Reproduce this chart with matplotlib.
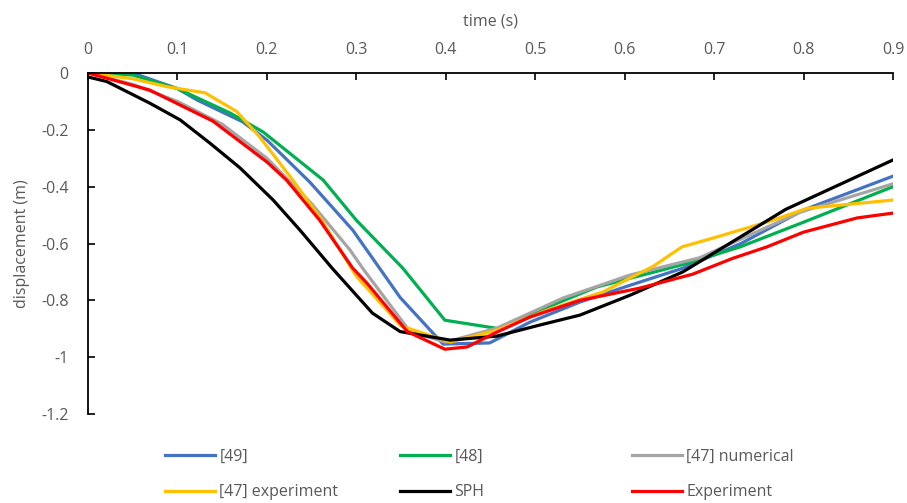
import matplotlib
matplotlib.use("Agg")
import matplotlib.pyplot as plt

# ---- data ----
x_49 = [0, 0.05, 0.1, 0.122, 0.173, 0.2, 0.248, 0.296, 0.349, 0.397, 0.449, 0.494, 0.55, 0.606, 0.665, 0.73, 0.8, 0.9]
y_49 = [0, 0, -0.055, -0.095, -0.172, -0.236, -0.384, -0.553, -0.79, -0.954, -0.95, -0.877, -0.806, -0.747, -0.687, -0.6, -0.482, -0.363]

x_48 = [0, 0.05, 0.1, 0.159, 0.196, 0.263, 0.3, 0.352, 0.399, 0.46, 0.505, 0.569, 0.67, 0.729, 0.8, 0.9]
y_48 = [0, -0.007, -0.055, -0.141, -0.208, -0.377, -0.518, -0.687, -0.87, -0.90, -0.835, -0.753, -0.67, -0.612, -0.525, -0.40]

x_47n = [0, 0.05, 0.1, 0.15, 0.2, 0.25, 0.293, 0.307, 0.36, 0.4, 0.457, 0.531, 0.606, 0.684, 0.796, 0.9]
y_47n = [0, -0.04, -0.1, -0.18, -0.3, -0.46, -0.623, -0.687, -0.91, -0.947, -0.898, -0.792, -0.711, -0.65, -0.49, -0.39]

x_47e = [0, 0.05, 0.088, 0.131, 0.166, 0.192, 0.229, 0.259, 0.3, 0.35, 0.405, 0.457, 0.513, 0.576, 0.632, 0.664, 0.703, 0.766, 0.804, 0.841, 0.9]
y_47e = [0, -0.02, -0.048, -0.07, -0.135, -0.225, -0.377, -0.507, -0.715, -0.89, -0.947, -0.905, -0.835, -0.77, -0.68, -0.612, -0.577, -0.518, -0.476, -0.465, -0.447]

x_sph = [0, 0.021, 0.069, 0.103, 0.136, 0.17, 0.207, 0.237, 0.273, 0.318, 0.349, 0.405, 0.457, 0.505, 0.55, 0.606, 0.665, 0.78, 0.9]
y_sph = [-0.014, -0.03, -0.106, -0.165, -0.246, -0.334, -0.447, -0.553, -0.687, -0.845, -0.91, -0.94, -0.926, -0.887, -0.852, -0.782, -0.70, -0.48, -0.306]

x_exp = [0, 0.069, 0.14, 0.2, 0.222, 0.259, 0.296, 0.312, 0.357, 0.399, 0.424, 0.457, 0.494, 0.55, 0.617, 0.676, 0.721, 0.759, 0.8, 0.86, 0.9]
y_exp = [0, -0.06, -0.17, -0.313, -0.377, -0.518, -0.687, -0.74, -0.91, -0.972, -0.964, -0.912, -0.859, -0.8, -0.757, -0.708, -0.652, -0.612, -0.56, -0.51, -0.493]

x_ticks = [0, 0.1, 0.2, 0.3, 0.4, 0.5, 0.6, 0.7, 0.8, 0.9]
x_ticklabels = ["0", "0.1", "0.2", "0.3", "0.4", "0.5", "0.6", "0.7", "0.8", "0.9"]
y_ticks = [0, -0.2, -0.4, -0.6, -0.8, -1.0, -1.2]
y_ticklabels = ["0", "-0.2", "-0.4", "-0.6", "-0.8", "-1", "-1.2"]

plt.rcParams['font.family'] = ['Open Sans', 'DejaVu Sans']
tc = '#595959'
fs = 11.5

fig = plt.figure(figsize=(9.07, 5.03), dpi=100)
ax = fig.add_axes([88/907, 1-414/503, (893-88)/907, (414-73)/503])

lw = 2.3
l1, = ax.plot(x_49, y_49, color='#4472C4', lw=lw, label='[49]')
l2, = ax.plot(x_48, y_48, color='#00B050', lw=lw, label='[48]')
l3, = ax.plot(x_47n, y_47n, color='#A5A5A5', lw=lw, label='[47] numerical')
l4, = ax.plot(x_47e, y_47e, color='#FFC000', lw=lw, label='[47] experiment')
l5, = ax.plot(x_sph, y_sph, color='black', lw=lw, label='SPH')
l6, = ax.plot(x_exp, y_exp, color='#FF0000', lw=lw, label='Experiment')

ax.set_xlim(0, 0.9)
ax.set_ylim(-1.2, 0)
ax.xaxis.tick_top()
ax.xaxis.set_label_position('top')
ax.set_xticks(x_ticks)
ax.set_xticklabels(x_ticklabels)
ax.set_yticks(y_ticks)
ax.set_yticklabels(y_ticklabels)
ax.tick_params(axis='x', direction='in', length=5, width=1.2, colors='black', labelcolor=tc, labelsize=fs, pad=11)
ax.tick_params(axis='y', direction='in', length=5, width=1.2, colors='black', labelcolor=tc, labelsize=fs, pad=14)
for s in ['right', 'bottom']:
    ax.spines[s].set_visible(False)
for s in ['top', 'left']:
    ax.spines[s].set_linewidth(1.3)
ax.set_xlabel('time (s)', color=tc, fontsize=fs, labelpad=12)
ax.set_ylabel('displacement (m)', color=tc, fontsize=fs, labelpad=8)

cols = [([l1, l4], 165), ([l2, l5], 400), ([l3, l6], 632)]
for handles, xpx in cols:
    fig.legend(handles=handles, labels=[h.get_label() for h in handles],
               loc='upper left', bbox_to_anchor=(xpx/907, 1-449/503),
               frameon=False, fontsize=fs, labelcolor=tc,
               handlelength=3.1, handletextpad=0.3, labelspacing=1.22,
               borderpad=0, borderaxespad=0)

fig.savefig('out.png', dpi=100)
